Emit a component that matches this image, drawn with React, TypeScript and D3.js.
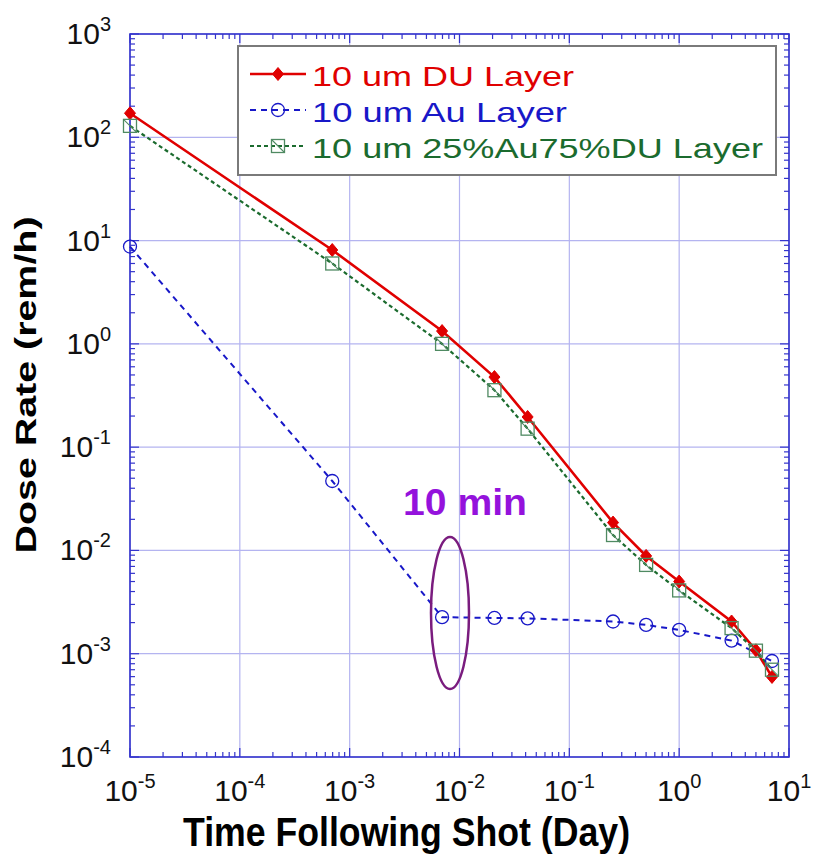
import React from "react";
import * as d3 from "d3";

// ---- data ----
const timesDU: number[] = [1e-5, 6.94e-4, 6.94e-3, 0.0208, 0.0417, 0.25, 0.5, 1, 3, 5, 7];
const doseDU: number[] = [171, 8.1, 1.33, 0.477, 0.196, 0.0186, 0.00885, 0.005, 0.00205, 0.00108, 0.000596];

const timesAu: number[] = [1e-5, 6.94e-4, 6.94e-3, 0.0208, 0.0417, 0.25, 0.5, 1, 3, 7];
const doseAu: number[] = [8.75, 0.047, 0.00226, 0.00222, 0.0022, 0.00205, 0.0019, 0.0017, 0.00134, 0.00085];

const timesMix: number[] = [1e-5, 6.94e-4, 6.94e-3, 0.0208, 0.0417, 0.25, 0.5, 1, 3, 5, 7];
const doseMix: number[] = [129, 6.0, 1.0, 0.356, 0.151, 0.0141, 0.00724, 0.0041, 0.00177, 0.00107, 0.0007];

const xTickExps: number[] = [-5, -4, -3, -2, -1, 0, 1];
const yTickExps: number[] = [3, 2, 1, 0, -1, -2, -3, -4];

const legendLabels: string[] = ["10 um DU Layer", "10 um Au Layer", "10 um 25%Au75%DU Layer"];
const xTitle = "Time Following Shot (Day)";
const yTitle = "Dose Rate (rem/h)";
const annotation = "10 min";

// ---- styles ----
const FONT = "'Liberation Sans', Arial, sans-serif";
const RED = "#e00000";
const BLUE = "#1818c8";
const GREEN = "#1b6b2e";
const SQ = "#4f8a62";
const AXIS = "#3434cc";
const GRID = "#b4b4f0";

export default function App() {
  const left = 130, right = 789, top = 34, bottom = 757;
  const x = d3.scaleLog().domain([1e-5, 10]).range([left, right]);
  const y = d3.scaleLog().domain([1e-4, 1e3]).range([bottom, top]);
  const line = d3
    .line<[number, number]>()
    .x((d) => x(d[0]))
    .y((d) => y(d[1]));

  const du: [number, number][] = timesDU.map((t, i) => [t, doseDU[i]]);
  const au: [number, number][] = timesAu.map((t, i) => [t, doseAu[i]]);
  const mix: [number, number][] = timesMix.map((t, i) => [t, doseMix[i]]);

  // ticks
  const xMinor: number[] = [];
  for (let e = -5; e < 1; e++) for (let k = 2; k <= 9; k++) xMinor.push(k * Math.pow(10, e));
  const yMinor: number[] = [];
  for (let e = -4; e < 3; e++) for (let k = 2; k <= 9; k++) yMinor.push(k * Math.pow(10, e));

  const diamond = (cx: number, cy: number, key: any) => (
    <path key={key} d={`M${cx},${cy - 6.5} L${cx + 5.5},${cy} L${cx},${cy + 6.5} L${cx - 5.5},${cy} Z`} fill={RED} stroke={RED} strokeWidth={1} />
  );
  const circle = (cx: number, cy: number, key: any) => (
    <circle key={key} cx={cx} cy={cy} r={6.5} fill="none" stroke={BLUE} strokeWidth={1.3} />
  );
  const square = (cx: number, cy: number, key: any) => (
    <g key={key}>
      <rect x={cx - 6.5} y={cy - 6.5} width={13} height={13} fill="none" stroke={SQ} strokeWidth={1.3} />
      <line x1={cx - 6.5} y1={cy - 6.5} x2={cx + 6.5} y2={cy + 6.5} stroke={SQ} strokeWidth={1.1} />
    </g>
  );

  const legendRows = [
    { label: legendLabels[0], color: RED, dash: undefined as string | undefined, width: 2.5, marker: diamond, len: 262 },
    { label: legendLabels[1], color: BLUE, dash: "6,5", width: 2, marker: circle, len: 255 },
    { label: legendLabels[2], color: GREEN, dash: "4,3", width: 2, marker: square, len: 451 },
  ];

  return (
    <div style={{ position: "absolute", left: 0, top: 0 }}>
      <svg width={821} height={857} style={{ display: "block", background: "#fff" }} fontFamily={FONT}>
        <rect x={0} y={0} width={821} height={857} fill="#fff" />
        {/* grid */}
        {xTickExps.map((e) => (
          <line key={"gx" + e} x1={x(Math.pow(10, e))} x2={x(Math.pow(10, e))} y1={top} y2={bottom} stroke={GRID} strokeWidth={1.2} />
        ))}
        {yTickExps.map((e) => (
          <line key={"gy" + e} x1={left} x2={right} y1={y(Math.pow(10, e))} y2={y(Math.pow(10, e))} stroke={GRID} strokeWidth={1.2} />
        ))}

        {/* minor ticks */}
        {xMinor.map((v, i) => (
          <g key={"xm" + i} stroke={AXIS} strokeWidth={1.2}>
            <line x1={x(v)} x2={x(v)} y1={bottom} y2={bottom - 5} />
            <line x1={x(v)} x2={x(v)} y1={top} y2={top + 5} />
          </g>
        ))}
        {yMinor.map((v, i) => (
          <g key={"ym" + i} stroke={AXIS} strokeWidth={1.2}>
            <line x1={left} x2={left + 5} y1={y(v)} y2={y(v)} />
            <line x1={right} x2={right - 5} y1={y(v)} y2={y(v)} />
          </g>
        ))}
        {/* major ticks */}
        {xTickExps.map((e) => (
          <g key={"xM" + e} stroke={AXIS} strokeWidth={1.2}>
            <line x1={x(Math.pow(10, e))} x2={x(Math.pow(10, e))} y1={bottom} y2={bottom - 9} />
            <line x1={x(Math.pow(10, e))} x2={x(Math.pow(10, e))} y1={top} y2={top + 9} />
          </g>
        ))}
        {yTickExps.map((e) => (
          <g key={"yM" + e} stroke={AXIS} strokeWidth={1.2}>
            <line x1={left} x2={left + 9} y1={y(Math.pow(10, e))} y2={y(Math.pow(10, e))} />
            <line x1={right} x2={right - 9} y1={y(Math.pow(10, e))} y2={y(Math.pow(10, e))} />
          </g>
        ))}
        {/* frame */}
        <rect x={left} y={top} width={right - left} height={bottom - top} fill="none" stroke={AXIS} strokeWidth={1.6} />

        {/* legend */}
        <rect x={238} y={46} width={538} height={129} fill="#fff" stroke="#7a7a7a" strokeWidth={2} />
        {legendRows.map((r, i) => {
          const by = 86 + i * 36;
          const ly = by - 12;
          return (
            <g key={"lg" + i}>
              <line x1={250} x2={306} y1={ly} y2={ly} stroke={r.color} strokeWidth={r.width} strokeDasharray={r.dash} />
              {r.marker(278, ly, "m")}
              <text x={312} y={by} fontSize={28} fill={r.color} textLength={r.len} lengthAdjust="spacingAndGlyphs">
                {r.label}
              </text>
            </g>
          );
        })}

        {/* series */}
        <path d={line(du) || ""} fill="none" stroke={RED} strokeWidth={2.6} />
        <path d={line(au) || ""} fill="none" stroke={BLUE} strokeWidth={2} strokeDasharray="6,5" />
        <path d={line(mix) || ""} fill="none" stroke={GREEN} strokeWidth={2.2} strokeDasharray="4,3" />
        {du.map((d, i) => diamond(x(d[0]), y(d[1]), "d" + i))}
        {au.map((d, i) => circle(x(d[0]), y(d[1]), "c" + i))}
        {mix.map((d, i) => square(x(d[0]), y(d[1]), "s" + i))}

        {/* annotation */}
        <ellipse cx={450} cy={613} rx={19} ry={76} fill="none" stroke="#7a1c7e" strokeWidth={2.5} />
        <text x={403} y={515} fontSize={36} fontWeight="bold" fill="#9412dc" textLength={124} lengthAdjust="spacingAndGlyphs">
          {annotation}
        </text>

        {/* x tick labels */}
        {xTickExps.map((e) => (
          <text key={"xl" + e} x={x(Math.pow(10, e))} y={801} fontSize={30} textAnchor="middle" fill="#111">
            <tspan>10</tspan>
            <tspan dy={-13} fontSize={20}>{String(e)}</tspan>
          </text>
        ))}
        {/* y tick labels */}
        {yTickExps.map((e) => (
          <text key={"yl" + e} x={111} y={y(Math.pow(10, e)) + 10} fontSize={30} textAnchor="end" fill="#111">
            <tspan>10</tspan>
            <tspan dy={-13} fontSize={20}>{String(e)}</tspan>
          </text>
        ))}

        {/* axis titles */}
        <text x={183} y={846} fontSize={40} fontWeight="bold" fill="#000" textLength={447} lengthAdjust="spacingAndGlyphs">
          {xTitle}
        </text>
        <text
          transform={`translate(36,${385}) rotate(-90)`}
          x={0}
          y={0}
          fontSize={29}
          fontWeight="bold"
          fill="#000"
          textAnchor="middle"
          textLength={337}
          lengthAdjust="spacingAndGlyphs"
        >
          {yTitle}
        </text>
      </svg>
    </div>
  );
}
